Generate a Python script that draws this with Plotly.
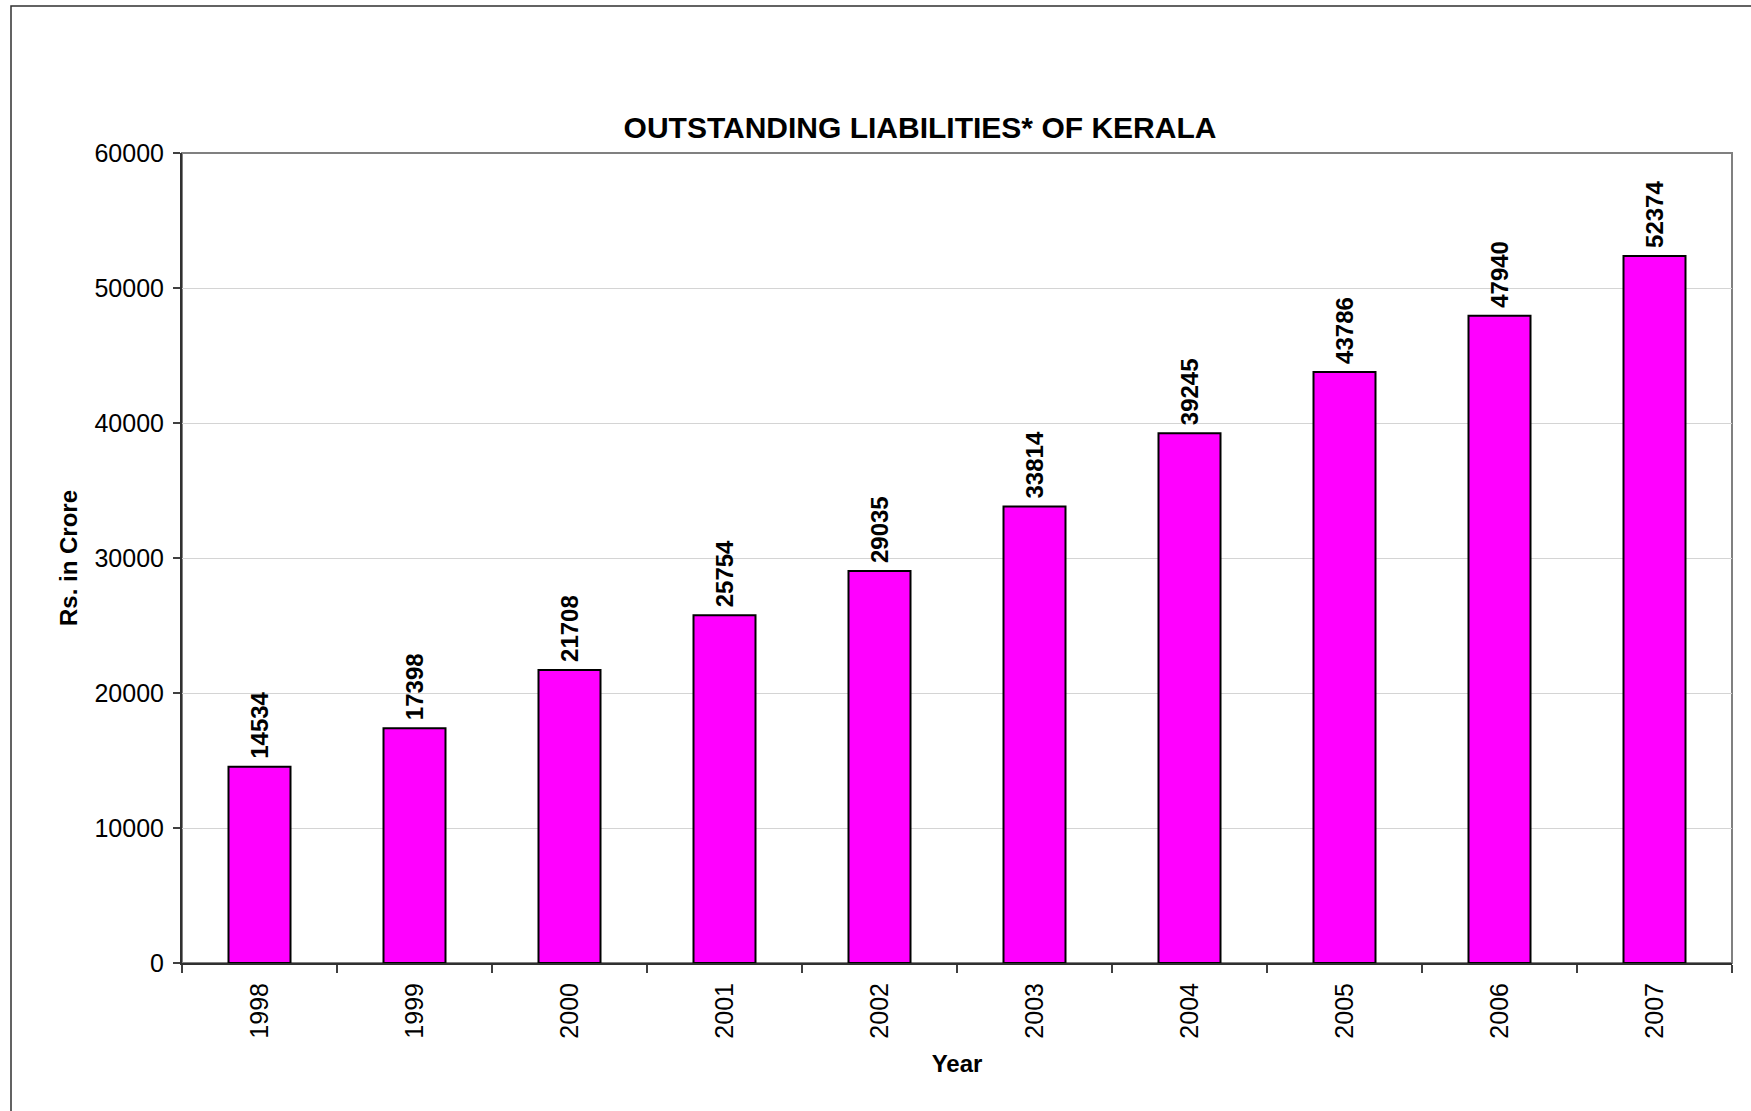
import plotly.graph_objects as go

# Outstanding liabilities of Kerala, Rs. in crore
years = ["1998", "1999", "2000", "2001", "2002", "2003", "2004", "2005", "2006", "2007"]
liabilities = [14534, 17398, 21708, 25754, 29035, 33814, 39245, 43786, 47940, 52374]
y_ticks = [0, 10000, 20000, 30000, 40000, 50000, 60000]

W, H = 1751, 1111
L, R, T, B = 182, 1732, 153, 963          # plot-area edges in pixels
pw, ph = R - L, B - T

FONT = "Liberation Sans, Arial, sans-serif"

fig = go.Figure(
    go.Bar(
        x=years,
        y=liabilities,
        marker=dict(color="#FF00FF", line=dict(color="#000000", width=2)),
        hoverinfo="x+y",
    )
)

# value labels, rotated, sitting just above each bar
# (category axis: annotations are positioned by category index)
for i, val in enumerate(liabilities):
    fig.add_annotation(
        x=i, y=val, xref="x", yref="y",
        text=f"<b>{val}</b>", showarrow=False,
        textangle=-90, xanchor="center", yanchor="bottom", yshift=6,
        font=dict(family=FONT, size=24, color="#000000"),
    )

def px_to_paper_x(px):
    return (px - L) / pw

def px_to_paper_y(py):
    return (B - py) / ph

# outer frame around the whole chart (runs off the right and bottom edges)
fig.add_shape(
    type="rect", xref="paper", yref="paper", layer="below",
    x0=px_to_paper_x(11), x1=px_to_paper_x(W + 10),
    y0=px_to_paper_y(H + 10), y1=px_to_paper_y(6),
    line=dict(color="#303030", width=1.5), fillcolor="rgba(0,0,0,0)",
)
# grey plot-area border (top and right)
fig.add_shape(
    type="rect", xref="paper", yref="paper", layer="below",
    x0=0, x1=1, y0=0, y1=1,
    line=dict(color="#808080", width=2), fillcolor="rgba(0,0,0,0)",
)

fig.update_layout(
    width=W, height=H,
    margin=dict(l=L, r=W - R, t=T, b=H - B, pad=0),
    paper_bgcolor="#FFFFFF",
    plot_bgcolor="#FFFFFF",
    bargap=0.6,
    showlegend=False,
    font=dict(family=FONT, color="#000000"),
    title=dict(
        text="OUTSTANDING LIABILITIES* OF KERALA",
        font=dict(family=FONT, size=30, color="#000000", weight="bold"),
        xref="container", x=920 / W, xanchor="center",
        yref="container", y=1 - 127 / H, yanchor="middle",
    ),
    xaxis=dict(
        type="category",
        categoryorder="array", categoryarray=years,
        range=[-0.5, len(years) - 0.5],
        tickson="boundaries",
        ticks="outside", ticklen=8, tickwidth=1.5, tickcolor="#404040",
        tickangle=-90,
        tickfont=dict(family=FONT, size=25, color="#000000"),
        ticklabelstandoff=8,
        showline=True, linecolor="#303030", linewidth=2,
        showgrid=False,
        title=dict(text="Year", font=dict(family=FONT, size=24, weight="bold"), standoff=18),
    ),
    yaxis=dict(
        range=[0, 60000],
        tickvals=y_ticks,
        ticktext=[str(v) for v in y_ticks],
        ticks="outside", ticklen=7, tickwidth=1.5, tickcolor="#404040",
        tickfont=dict(family=FONT, size=25, color="#000000"),
        ticklabelstandoff=4,
        showline=True, linecolor="#303030", linewidth=2,
        showgrid=True, gridcolor="#D4D4D4", gridwidth=1,
        zeroline=False,
        title=dict(text="Rs. in Crore", font=dict(family=FONT, size=24, weight="bold"), standoff=10),
    ),
)

fig.write_html("out.html")
